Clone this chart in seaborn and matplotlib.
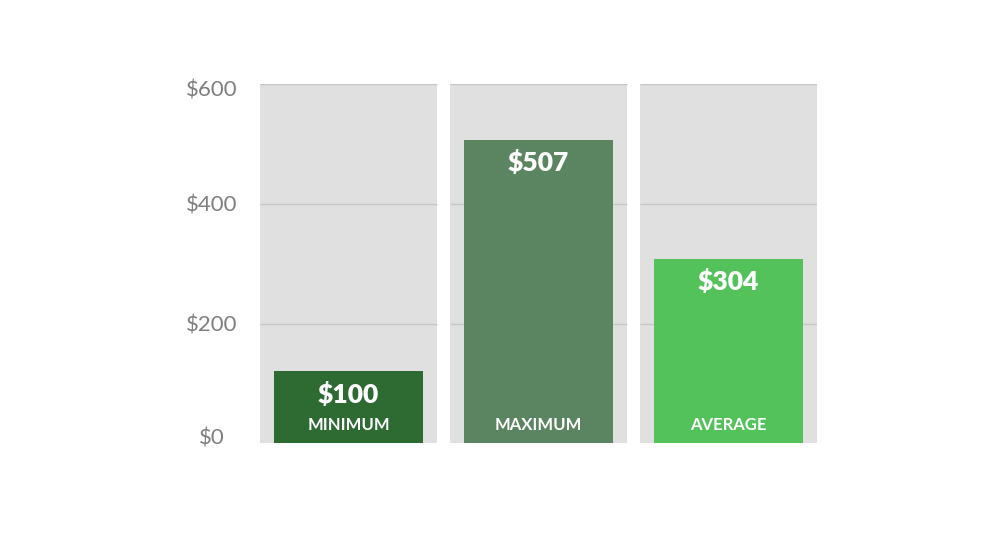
import matplotlib
matplotlib.use("Agg")
import matplotlib.pyplot as plt
import matplotlib.transforms as mtransforms
import seaborn as sns
import pandas as pd

categories = ["MINIMUM", "MAXIMUM", "AVERAGE"]
bar_heights = [120, 507, 308]
value_labels = ["$100", "$507", "$304"]
bar_colors = ["#2e6b33", "#5b8461", "#53c25a"]
panel_color = "#e0e0e0"
grid_color = "#c6c6c6"
y_ticks = [0, 200, 400, 600]
y_tick_labels = ["$0", "$200", "$400", "$600"]
y_max = 600

sns.set_theme(style="white")
plt.rcParams["font.family"] = ["Lato", "DejaVu Sans"]

fig = plt.figure(figsize=(10.01, 5.33), dpi=100)
ax = fig.add_axes([0.2597, 0.1683, 0.5565, 0.6741])

df = pd.DataFrame({"cat": categories, "h": bar_heights, "panel": [y_max] * len(categories)})

# background panels
sns.barplot(data=df, x="cat", y="panel", color=panel_color, width=0.93, ax=ax,
            saturation=1, zorder=0, linewidth=0)
# panel-only gridlines
for i in range(len(categories)):
    ax.hlines([t for t in y_ticks if t > 0], i - 0.465, i + 0.465, colors=grid_color,
              linewidth=1, zorder=1)
# value bars
sns.barplot(data=df, x="cat", y="h", hue="cat", palette=bar_colors, width=0.78,
            ax=ax, saturation=1, legend=False, zorder=2, linewidth=0)

for i, (h, lab, cat) in enumerate(zip(bar_heights, value_labels, categories)):
    off_top = mtransforms.offset_copy(ax.transData, fig=fig, x=0, y=-23, units="dots")
    ax.text(i, h, lab, transform=off_top, ha="center", va="center", color="white",
            fontsize=19, fontweight="heavy", zorder=3)
    off_bot = mtransforms.offset_copy(ax.transData, fig=fig, x=0, y=18, units="dots")
    ax.text(i, 0, cat, transform=off_bot, ha="center", va="center", color="white",
            fontsize=12, fontweight="bold", zorder=3)

ax.set_xlim(-0.466, len(categories) - 1 + 0.466)
ax.set_ylim(0, y_max)
ax.set_yticks(y_ticks)
ax.set_yticklabels(y_tick_labels)
ax.tick_params(axis="y", length=0, pad=35, labelsize=16, labelcolor="#7f7f7f")
ax.set_xticks([])
ax.set_xlabel("")
ax.set_ylabel("")
for s in ax.spines.values():
    s.set_visible(False)
ax.grid(False)

# centred labels; keep the end labels inside the plot height
label_shift = [7, 0, 0, -4]
for lbl, dy in zip(ax.get_yticklabels(), label_shift):
    lbl.set_horizontalalignment("center")
    lbl.set_transform(lbl.get_transform() + mtransforms.ScaledTranslation(0, dy / 100, fig.dpi_scale_trans))

fig.savefig("out.png", dpi=100, facecolor="white")
